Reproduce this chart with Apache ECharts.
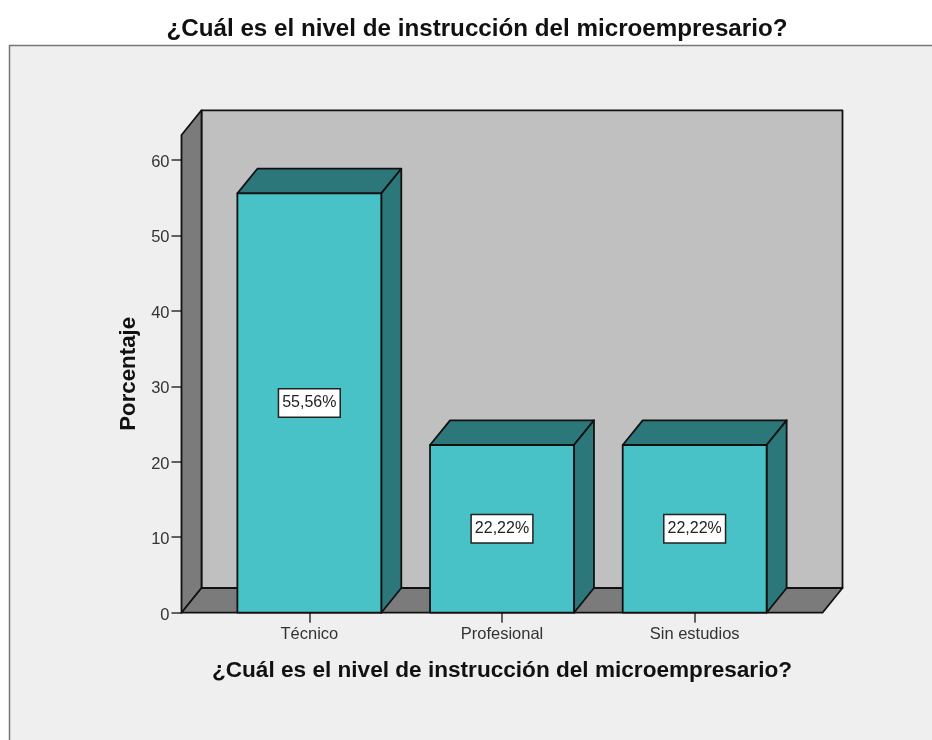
<!DOCTYPE html>
<html><head><meta charset="utf-8">
<style>html,body{margin:0;padding:0;background:#fff}#c{width:932px;height:740px}</style>
<script src="https://cdn.jsdelivr.net/npm/echarts@6/dist/echarts.min.js"></script>
</head><body><div id="c"></div>
<script>
const titleText = '¿Cuál es el nivel de instrucción del microempresario?';
const yName = 'Porcentaje';
const categories = ['Técnico', 'Profesional', 'Sin estudios'];
const values = [55.56, 22.22, 22.22];
const valueLabels = ['55,56%', '22,22%', '22,22%'];
const yTicks = [0, 10, 20, 30, 40, 50, 60];
const yMax = 63.3;

const DX = 20, DY = 24.7, BAR_RATIO = 0.747, FLOOR_EXT = 31.5;
const LINE = '#111', LW = 1.8;
const font = 'Liberation Sans, Arial, sans-serif';

const poly = (pts, fill) => ({type:'polygon', shape:{points:pts}, style:{fill, stroke:LINE, lineWidth:LW, lineJoin:'round'}});

const chart = echarts.init(document.getElementById('c'), null, {renderer:'canvas'});
chart.setOption({
  animation:false,
  backgroundColor:'#ffffff',
  title:{text:titleText, left:472, top:12, textAlign:'center',
    textStyle:{fontFamily:font, fontWeight:'bold', fontSize:24.2, color:'#111'}},
  graphic:[{type:'rect', z:-10, silent:true, shape:{x:9.5,y:45.5,width:940,height:720},
    style:{fill:'#efefef', stroke:'#777', lineWidth:1.5}}],
  grid:{left:213, width:578, top:135, bottom:740-612.7},
  xAxis:{type:'category', data:categories,
    name:titleText, nameLocation:'middle', nameGap:47,
    nameTextStyle:{fontFamily:font, fontWeight:'bold', fontSize:22.6, color:'#111'},
    axisLine:{show:false},
    axisTick:{show:true, alignWithLabel:true, length:10, lineStyle:{color:'#333', width:1.5}},
    axisLabel:{fontFamily:font, fontSize:16.5, color:'#333', margin:13, interval:0}},
  yAxis:{type:'value', min:0, max:yMax, interval:10, offset:31.5,
    name:yName, nameLocation:'middle', nameGap:42, nameRotate:90,
    nameTextStyle:{fontFamily:font, fontWeight:'bold', fontSize:22.3, color:'#111'},
    axisLine:{show:false}, splitLine:{show:false},
    axisTick:{show:true, length:10, customValues:yTicks, lineStyle:{color:'#333', width:1.5}},
    axisLabel:{fontFamily:font, fontSize:16.5, color:'#333', margin:12, verticalAlign:'top', padding:[-6,0,0,0],
      customValues:yTicks, formatter:v=>String(Math.round(v))}},
  series:[
    {type:'custom', z:1, silent:true, data:[0], encode:{x:0},
     renderItem:(p,api)=>{
       const band = api.size([1,0])[0];
       const c0 = api.coord([0,0]), cT = api.coord([0,yMax]);
       const L = c0[0]-band/2-FLOOR_EXT, R = api.coord([categories.length-1,0])[0]+band/2+FLOOR_EXT;
       const y0 = c0[1], yT = cT[1];
       return {type:'group', children:[
         poly([[L+DX,yT-DY],[R+DX,yT-DY],[R+DX,y0-DY],[L+DX,y0-DY]],'#c0c0c0'),
         poly([[L,y0],[L+DX,y0-DY],[L+DX,yT-DY],[L,yT]],'#7b7b7b'),
         poly([[L,y0],[R,y0],[R+DX,y0-DY],[L+DX,y0-DY]],'#7b7b7b')
       ]};
     }},
    {type:'custom', z:3, silent:true, data:categories.map((c,i)=>[i,values[i]]), encode:{x:0,y:1},
     renderItem:(p,api)=>{
       const i = api.value(0), v = api.value(1);
       const band = api.size([1,0])[0], w = band*BAR_RATIO;
       const b = api.coord([i,0]), t = api.coord([i,v]);
       const x1 = b[0]-w/2, x2 = b[0]+w/2, y0 = b[1], y1 = t[1];
       return {type:'group', children:[
         poly([[x1,y1],[x2,y1],[x2+DX,y1-DY],[x1+DX,y1-DY]],'#2c7779'),
         poly([[x2,y1],[x2+DX,y1-DY],[x2+DX,y0-DY],[x2,y0]],'#2c7779'),
         poly([[x1,y1],[x2,y1],[x2,y0],[x1,y0]],'#48c2c6'),
         {type:'text', x:b[0], y:(y0+y1)/2, z2:10, style:{
           text:valueLabels[i], align:'center', verticalAlign:'middle',
           fontFamily:font, fontSize:16, fill:'#222',
           backgroundColor:'#fff', borderColor:'#222', borderWidth:1.5,
           padding:[6,3,5,3]}}
       ]};
     }}
  ]
});
</script></body></html>
